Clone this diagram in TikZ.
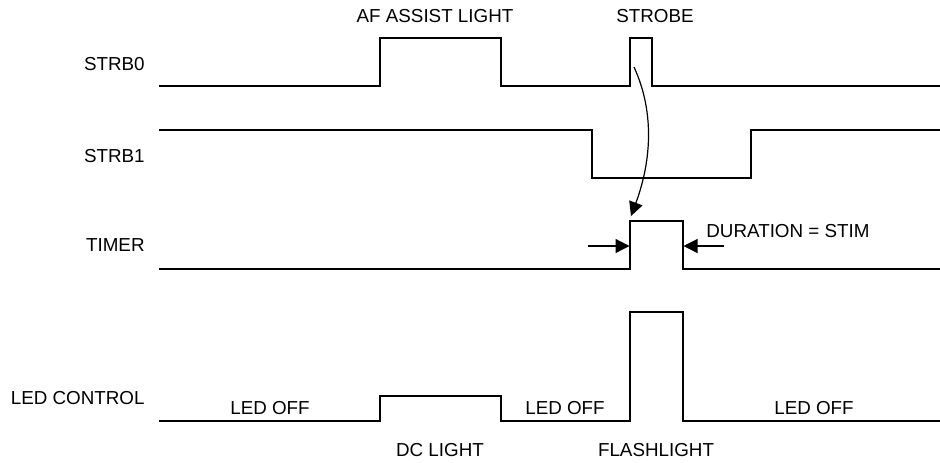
\documentclass[tikz,border=0pt]{standalone}
\usepackage{fontspec}
\setmainfont{Liberation Sans}
\usetikzlibrary{arrows.meta}

\begin{document}
\begin{tikzpicture}[
    x=0.5pt, y=-0.5pt,
    every node/.style={font=\fontsize{9.4}{11}\selectfont, inner sep=0pt},
    signame/.style={anchor=east},
    wave/.style={line width=1.1pt, line join=miter},
    pointer/.style={line width=0.6pt, -{Triangle[length=7pt,width=7pt]}}
]
\useasboundingbox (0,0) rectangle (940,462);

% signal names
\node[signame] (strb0) at (145,64) {STRB0};
\node[signame] (strb1) at (145,156) {STRB1};
\node[signame] (timer) at (145,245) {TIMER};
\node[signame] (led) at (145,398) {LED CONTROL};

% waveforms
\draw[wave] (159,86) -- (380,86) -- (380,38) -- (501,38) -- (501,86)
    -- (630,86) -- (630,38) -- (652,38) -- (652,86) -- (940,86);
\draw[wave] (159,130) -- (592,130) -- (592,178) -- (751,178) -- (751,130) -- (940,130);
\draw[wave] (159,269) -- (630,269) -- (630,221) -- (683,221) -- (683,269) -- (940,269);
\draw[wave] (159,421) -- (380,421) -- (380,396) -- (501,396) -- (501,421)
    -- (630,421) -- (630,312) -- (683,312) -- (683,421) -- (940,421);

% pulse labels
\node (af) at (435,16) {AF ASSIST LIGHT};
\node (strobe) at (655,16) {STROBE};
\node[anchor=west] (dur) at (706,231) {DURATION = STIM};
\node (off1) at (270,408) {LED OFF};
\node (off2) at (565,408) {LED OFF};
\node (off3) at (814,408) {LED OFF};
\node (dc) at (440,450) {DC LIGHT};
\node (flash) at (656,450) {FLASHLIGHT};

% trigger and duration marks
\coordinate (trigsrc) at (634,67);
\coordinate (trigdst) at (631,216);
\coordinate (durL) at (588,246);
\coordinate (durLtip) at (629.5,246);
\coordinate (durR) at (724,246);
\coordinate (durRtip) at (683.5,246);

\draw[pointer] (trigsrc) .. controls (656,115) and (650,165) .. (trigdst);
\draw[pointer] (durL) -- (durLtip);
\draw[pointer] (durR) -- (durRtip);

\end{tikzpicture}
\end{document}
